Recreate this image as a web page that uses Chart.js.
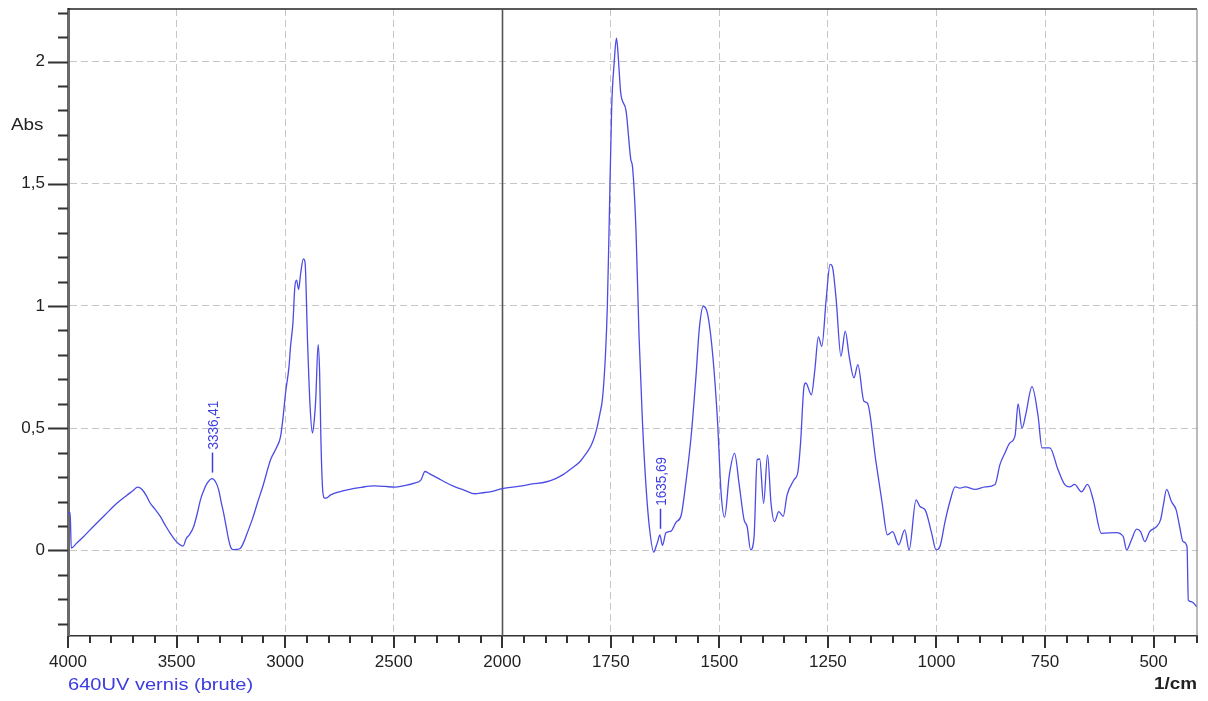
<!DOCTYPE html>
<html>
<head>
<meta charset="utf-8">
<script src="https://cdn.jsdelivr.net/npm/chart.js@4.4.1/dist/chart.umd.min.js"></script>
<style>
  html, body { margin: 0; padding: 0; background: #fff; }
  #wrap { width: 1208px; height: 701px; }
</style>
</head>
<body>
<div id="wrap"><canvas id="spectrumChart"></canvas></div>
<script>
/* ============================================
   FTIR spectrum — 640UV vernis (brute)
   ============================================ */

const wavenumbers = [
    4000, 3990, 3985, 3960, 3930, 3883, 3830, 3775, 3730, 3700, 3680, 3660, 3640, 3621, 3600,
    3575, 3550, 3529, 3505, 3490, 3470, 3455, 3440, 3421, 3405, 3390, 3375, 3359, 3336, 3320,
    3306, 3295, 3283, 3270, 3260, 3250, 3240, 3225, 3206, 3190, 3175, 3150, 3128, 3100, 3067,
    3040, 3021, 3010, 2998, 2982, 2975, 2964, 2955, 2947, 2938, 2928, 2916, 2908, 2897, 2885,
    2874, 2866, 2859, 2848, 2841, 2835, 2828, 2820, 2813, 2790, 2750, 2713, 2650, 2590, 2540,
    2497, 2450, 2405, 2374, 2356, 2336, 2297, 2260, 2220, 2170, 2128, 2090, 2051, 2000, 1960,
    1931, 1900, 1877, 1860, 1839, 1820, 1808, 1795, 1785, 1775, 1769, 1762, 1758, 1754, 1748,
    1742, 1737, 1734, 1731, 1727, 1715, 1704, 1700, 1692, 1685, 1677, 1669, 1661, 1651, 1645,
    1642, 1637, 1631, 1623, 1611, 1600, 1588, 1577, 1565, 1554, 1546, 1537, 1527, 1515, 1504,
    1496, 1488, 1477, 1465, 1454, 1443, 1436, 1428, 1420, 1413, 1407, 1398, 1389, 1381, 1373,
    1363, 1353, 1344, 1328, 1319, 1313, 1305, 1301, 1288, 1280, 1272, 1264, 1254, 1245, 1240,
    1231, 1220, 1210, 1201, 1190, 1181, 1167, 1159, 1140, 1125, 1113, 1101, 1087, 1073, 1063,
    1047, 1038, 1026, 1011, 1001, 992, 980, 969, 957, 946, 934, 911, 888, 865, 854,
    842, 831, 819, 812, 803, 794, 780, 766, 757, 739, 720, 705, 693, 682, 666,
    652, 639, 620, 586, 570, 562, 551, 539, 530, 520, 509, 493, 484, 478, 470,
    459, 448, 440, 432, 423, 420, 412, 401
];

// absorbance at each wavenumber above
const absorbance = [
    0.155, 0.155, 0.010, 0.030, 0.055, 0.098, 0.145, 0.193, 0.225, 0.245, 0.259, 0.250, 0.225, 0.193, 0.170,
    0.139, 0.100, 0.070, 0.040, 0.027, 0.018, 0.050, 0.065, 0.098, 0.150, 0.207, 0.245, 0.275, 0.294, 0.280,
    0.248, 0.200, 0.152, 0.090, 0.043, 0.012, 0.003, 0.004, 0.009, 0.035, 0.070, 0.130, 0.193, 0.270, 0.371,
    0.420, 0.466, 0.540, 0.644, 0.753, 0.835, 0.931, 1.081, 1.106, 1.068, 1.136, 1.193, 1.177, 0.863, 0.589,
    0.480, 0.530, 0.617, 0.842, 0.726, 0.450, 0.261, 0.215, 0.214, 0.227, 0.240, 0.248, 0.258, 0.264, 0.262,
    0.259, 0.265, 0.275, 0.289, 0.323, 0.314, 0.296, 0.278, 0.261, 0.245, 0.232, 0.236, 0.241, 0.253, 0.263,
    0.272, 0.280, 0.294, 0.310, 0.337, 0.365, 0.394, 0.430, 0.480, 0.560, 0.623, 0.810, 0.996, 1.310, 1.810,
    2.000, 2.096, 2.050, 1.970, 1.870, 1.800, 1.600, 1.570, 1.310, 0.880, 0.523, 0.265, 0.093, -0.007, 0.020,
    0.036, 0.064, 0.021, 0.072, 0.079, 0.115, 0.143, 0.279, 0.466, 0.709, 0.910, 0.999, 0.967, 0.795, 0.523,
    0.236, 0.136, 0.308, 0.397, 0.265, 0.125, 0.098, 0.002, 0.057, 0.371, 0.374, 0.193, 0.391, 0.193, 0.118,
    0.159, 0.139, 0.227, 0.289, 0.323, 0.439, 0.671, 0.685, 0.637, 0.740, 0.874, 0.835, 1.027, 1.170, 1.163,
    1.027, 0.794, 0.897, 0.794, 0.706, 0.760, 0.610, 0.603, 0.371, 0.193, 0.064, 0.077, 0.023, 0.084, 0.002,
    0.207, 0.180, 0.166, 0.070, 0.002, 0.016, 0.120, 0.200, 0.260, 0.255, 0.260, 0.250, 0.260, 0.270, 0.350,
    0.400, 0.440, 0.470, 0.600, 0.500, 0.560, 0.670, 0.550, 0.420, 0.420, 0.330, 0.270, 0.260, 0.270, 0.240,
    0.270, 0.207, 0.070, 0.073, 0.057, 0.002, 0.043, 0.087, 0.077, 0.036, 0.077, 0.098, 0.125, 0.180, 0.250,
    0.200, 0.166, 0.098, 0.036, 0.016, -0.203, -0.210, -0.230
];

const xTickLabels = [4000, 3500, 3000, 2500, 2000, 1750, 1500, 1250, 1000, 750, 500];
const yTickLabels = [0, 0.5, 1, 1.5, 2];

const peakPositions = [3336.41, 1635.69];
const peakHeights = [0.294, 0.064];
const peakLabels = ['3336,41', '1635,69'];

const seriesName = '640UV vernis (brute)';

const X_MIN = 400, X_MAX = 4000, X_BREAK = 2000;
const FONT = "'Liberation Sans', Arial, sans-serif";
const BLUE = '#4b4be6';
const STRETCH = 1.18;   // the source screenshot has wide text

// x axis runs 4000 -> 400, below 2000 the scale is stretched twice
class SplitLinearScale extends Chart.LinearScale {
    _span(v) {
        return v >= X_BREAK ? X_MAX - v : (X_MAX - X_BREAK) + (X_BREAK - v) * 2;
    }
    getPixelForValue(value) {
        return this.left + this.width * this._span(value) / this._span(X_MIN);
    }
    getValueForPixel(pixel) {
        const u = (pixel - this.left) / this.width * this._span(X_MIN);
        return u <= X_MAX - X_BREAK ? X_MAX - u : X_BREAK - (u - (X_MAX - X_BREAK)) / 2;
    }
}
SplitLinearScale.id = 'splitLinear';
SplitLinearScale.defaults = {};
Chart.register(SplitLinearScale);

function isMajorX(v) { return xTickLabels.includes(v); }
function isMajorY(v) { return yTickLabels.some(t => Math.abs(t - v) < 1e-6); }

function wideText(ctx, text, x, y, align) {
    ctx.save();
    ctx.translate(x, y);
    ctx.scale(STRETCH, 1);
    ctx.textAlign = align;
    ctx.fillText(text, 0, 0);
    ctx.restore();
}

const framePlugin = {
    id: 'frame',
    beforeDatasetsDraw(chart) {
        const { ctx, chartArea: a, scales } = chart;
        ctx.save();
        // top + right border
        ctx.strokeStyle = '#222';
        ctx.lineWidth = 1.5;
        ctx.beginPath();
        ctx.moveTo(a.left, a.top);
        ctx.lineTo(a.right, a.top);
        ctx.stroke();
        ctx.strokeStyle = '#777';
        ctx.lineWidth = 1;
        ctx.beginPath();
        ctx.moveTo(a.right, a.top);
        ctx.lineTo(a.right, a.bottom);
        ctx.stroke();
        // scale break line
        const bx = Math.round(scales.x.getPixelForValue(X_BREAK)) + 0.5;
        ctx.strokeStyle = '#555';
        ctx.lineWidth = 1.6;
        ctx.beginPath();
        ctx.moveTo(bx, a.top);
        ctx.lineTo(bx, a.bottom);
        ctx.stroke();
        ctx.restore();
    },
    afterDraw(chart) {
        const { ctx, chartArea: a, scales } = chart;
        const xs = scales.x, ys = scales.y;
        ctx.save();
        ctx.strokeStyle = '#333';
        ctx.lineWidth = 2;
        ctx.beginPath();
        xs.ticks.forEach(t => {
            const px = Math.round(xs.getPixelForValue(t.value));
            const len = isMajorX(t.value) ? 12 : 7;
            ctx.moveTo(px, a.bottom);
            ctx.lineTo(px, a.bottom + len);
        });
        ys.ticks.forEach(t => {
            const py = Math.round(ys.getPixelForValue(t.value)) + 0.5;
            const len = isMajorY(t.value) ? 20 : 10;
            ctx.moveTo(a.left, py);
            ctx.lineTo(a.left - len, py);
        });
        ctx.stroke();

        // axis captions
        ctx.fillStyle = '#222';
        ctx.textBaseline = 'middle';
        ctx.font = `16px ${FONT}`;
        wideText(ctx, 'Abs', 11, 126, 'left');
        ctx.font = `bold 16px ${FONT}`;
        wideText(ctx, '1/cm', a.right, 685, 'right');
        ctx.fillStyle = '#3c3ce0';
        ctx.font = `17px ${FONT}`;
        wideText(ctx, seriesName, a.left, 685, 'left');

        // peak labels
        ctx.strokeStyle = '#3c3ce0';
        ctx.lineWidth = 1.5;
        ctx.font = `13.5px ${FONT}`;
        peakPositions.forEach((w, i) => {
            const px = Math.round(xs.getPixelForValue(w)) + 0.5;
            const py = ys.getPixelForValue(peakHeights[i]) - 6;
            ctx.beginPath();
            ctx.moveTo(px, py);
            ctx.lineTo(px, py - 20);
            ctx.stroke();
            ctx.save();
            ctx.translate(px + 1, py - 23);
            ctx.scale(1.12, 1);
            ctx.rotate(-Math.PI / 2);
            ctx.textAlign = 'left';
            ctx.textBaseline = 'middle';
            ctx.fillText(peakLabels[i], 0, 0);
            ctx.restore();
        });
        ctx.restore();
    }
};

new Chart(document.getElementById('spectrumChart'), {
    type: 'line',
    data: {
        datasets: [{
            label: seriesName,
            data: wavenumbers.map((w, i) => ({ x: w, y: absorbance[i] })),
            borderColor: BLUE,
            borderWidth: 1.3,
            pointRadius: 0,
            cubicInterpolationMode: 'monotone',
            fill: false
        }]
    },
    options: {
        responsive: true,
        maintainAspectRatio: false,
        animation: false,
        layout: { padding: { top: 9, right: 11, left: 0, bottom: 0 } },
        plugins: {
            legend: { display: false },
            tooltip: { enabled: false }
        },
        scales: {
            x: {
                type: 'splitLinear',
                min: X_MIN,
                max: X_MAX,
                afterBuildTicks: (scale) => {
                    const vals = [];
                    for (let v = X_MAX; v >= X_BREAK; v -= 100) vals.push(v);
                    for (let v = X_BREAK - 50; v >= X_MIN; v -= 50) vals.push(v);
                    scale.ticks = vals.map(v => ({ value: v }));
                },
                afterFit: (scale) => {
                    scale.height = 65;
                    scale.paddingLeft = 0;
                    scale.paddingRight = 0;
                },
                ticks: {
                    autoSkip: false,
                    maxRotation: 0,
                    padding: 4,
                    color: '#222',
                    font: { family: FONT, size: 17 },
                    callback: (value) => isMajorX(value) ? String(value) : ''
                },
                grid: {
                    color: (ctx) => (ctx.tick && isMajorX(ctx.tick.value) &&
                        ctx.tick.value !== X_BREAK && ctx.tick.value !== X_MAX) ? '#c6c6c6' : 'rgba(0,0,0,0)',
                    lineWidth: 1,
                    drawTicks: true,
                    tickLength: 12,
                    tickColor: 'rgba(0,0,0,0)'
                },
                border: { display: true, color: '#333', width: 1.5, dash: [7, 4] }
            },
            y: {
                min: -0.35,
                max: 2.215,
                afterBuildTicks: (scale) => {
                    const vals = [];
                    for (let k = -3; k <= 22; k++) vals.push(Math.round(k) / 10);
                    scale.ticks = vals.map(v => ({ value: v }));
                },
                afterFit: (scale) => {
                    scale.width = 68;
                    scale.paddingTop = 0;
                    scale.paddingBottom = 0;
                },
                ticks: {
                    autoSkip: false,
                    padding: 3,
                    color: '#222',
                    font: { family: FONT, size: 17 },
                    callback: (value) => isMajorY(value) ? String(value).replace('.', ',') : ''
                },
                grid: {
                    color: (ctx) => (ctx.tick && isMajorY(ctx.tick.value)) ? '#c6c6c6' : 'rgba(0,0,0,0)',
                    lineWidth: 1,
                    drawTicks: true,
                    tickLength: 20,
                    tickColor: 'rgba(0,0,0,0)'
                },
                border: { display: true, color: '#6a6a6a', width: 3, dash: [7, 4] }
            }
        }
    },
    plugins: [framePlugin]
});
</script>
</body>
</html>
